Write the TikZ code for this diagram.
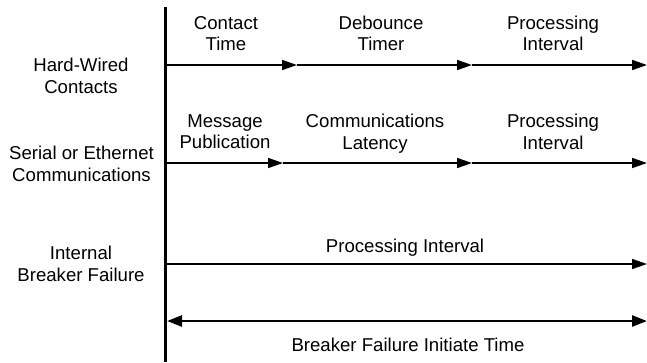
\documentclass[tikz,border=0pt]{standalone}
\usepackage{fontspec}
\setmainfont{Liberation Sans}
\usetikzlibrary{arrows.meta}
\begin{document}
\begin{tikzpicture}[x=1pt,y=-1pt,
  lbl/.style={align=center,font=\fontsize{18.6}{21.5}\selectfont,inner sep=0pt},
  seg/.style={line width=1.6pt,-{Triangle[length=15pt,width=10pt]}},
  span/.style={line width=2.6pt,{Triangle[length=15pt,width=11pt]}-{Triangle[length=15pt,width=11pt]}}]
\useasboundingbox (0,0) rectangle (647,362);
% time axis
\coordinate (axtop) at (165.5,7);
\coordinate (axbot) at (165.5,362);
\draw[line width=2.6pt] (axtop) -- (axbot);
% row labels
\node[lbl] (hw) at (81,79) {Hard-Wired\\Contacts\strut};
\node[lbl] (se) at (81.5,167) {Serial or Ethernet\\Communications\strut};
\node[lbl] (ib) at (81,267) {Internal\\Breaker Failure\strut};
% row 1: hard-wired contacts
\coordinate (r1a) at (165.5,65);
\coordinate (r1b) at (297,65);
\coordinate (r1c) at (472,65);
\coordinate (r1d) at (647,65);
\draw[seg] (r1a) -- (r1b);
\draw[seg] (r1b) -- (r1c);
\draw[seg] (r1c) -- (r1d);
\node[lbl] (ct) at (226,36.5) {Contact\\Time\strut};
\node[lbl] (dt) at (381,36.5) {Debounce\\Timer\strut};
\node[lbl] (pi1) at (553,36.5) {Processing\\Interval\strut};
% row 2: serial or ethernet communications
\coordinate (r2a) at (165.5,163);
\coordinate (r2b) at (283,163);
\coordinate (r2c) at (472,163);
\coordinate (r2d) at (647,163);
\draw[seg] (r2a) -- (r2b);
\draw[seg] (r2b) -- (r2c);
\draw[seg] (r2c) -- (r2d);
\node[lbl] (mp) at (225,135) {Message\\Publication\strut};
\node[lbl] (cl) at (375,135) {Communications\\Latency\strut};
\node[lbl] (pi2) at (553,135) {Processing\\Interval\strut};
% row 3: internal breaker failure
\coordinate (r3a) at (165.5,264);
\coordinate (r3b) at (647,264);
\draw[seg] (r3a) -- (r3b);
\node[lbl] (pi3) at (405,248) {Processing Interval\strut};
% overall initiate time
\coordinate (r4a) at (167,321);
\coordinate (r4b) at (647,321);
\draw[span] (r4a) -- (r4b);
\node[lbl] (bf) at (408,347) {Breaker Failure Initiate Time\strut};
\end{tikzpicture}
\end{document}
